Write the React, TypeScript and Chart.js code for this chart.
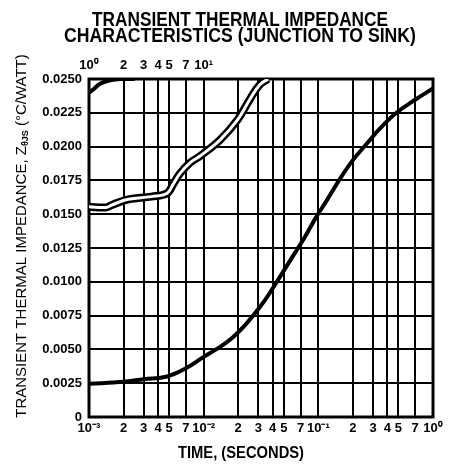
import React, { useEffect, useRef } from "react";
import { Chart, registerables } from "chart.js";

Chart.register(...registerables);

const X_TICKS = [0.001, 0.002, 0.003, 0.004, 0.005, 0.007, 0.01, 0.02, 0.03, 0.04, 0.05, 0.07, 0.1, 0.2, 0.3, 0.4, 0.5, 0.7, 1];
const X_TICK_LABELS = ["10⁻³", "2", "3", "4", "5", "7", "10⁻²", "2", "3", "4", "5", "7", "10⁻¹", "2", "3", "4", "5", "7", "10⁰"];
const TOP_TICKS = [1, 2, 3, 4, 5, 7, 10];
const TOP_TICK_LABELS = ["10⁰", "2", "3", "4", "5", "7", "10¹"];
const Y_TICKS = [0, 0.0025, 0.005, 0.0075, 0.01, 0.0125, 0.015, 0.0175, 0.02, 0.0225, 0.025];
const Y_TICK_LABELS = ["0", "0.0025", "0.0050", "0.0075", "0.0100", "0.0125", "0.0150", "0.0175", "0.0200", "0.0225", "0.0250"];

// main curve (bottom time axis, seconds)
const MAIN_T = [0.001, 0.002, 0.003, 0.0048, 0.007, 0.01, 0.014, 0.018, 0.023, 0.027, 0.034, 0.045, 0.06, 0.075, 0.093, 0.12, 0.154, 0.2, 0.27, 0.35, 0.48, 0.71, 1.0];
const MAIN_Z = [0.00245, 0.0026, 0.0028, 0.003, 0.0036, 0.00445, 0.0052, 0.0059, 0.0068, 0.0075, 0.0086, 0.0102, 0.0119, 0.0132, 0.0146, 0.0161, 0.0176, 0.019, 0.0203, 0.0214, 0.0225, 0.0235, 0.0243];

// double-line curve (bottom time axis)
const DBL_T = [0.001, 0.0014, 0.0016, 0.0022, 0.0035, 0.0048, 0.0054, 0.0062, 0.0076, 0.0093, 0.0139, 0.0198, 0.0253, 0.031, 0.0365];
const DBL_Z = [0.01555, 0.0155, 0.0157, 0.0161, 0.0163, 0.01655, 0.0172, 0.018, 0.0188, 0.0193, 0.0205, 0.022, 0.0235, 0.0246, 0.025];

// continuation on the top time axis (10^0 .. 10^1 s)
const TOP_T = [1, 1.08, 1.25, 1.5, 1.9, 2.5];
const TOP_Z = [0.024, 0.0242, 0.02465, 0.02488, 0.025, 0.025];

const TITLE_1 = "TRANSIENT THERMAL IMPEDANCE";
const TITLE_2 = "CHARACTERISTICS (JUNCTION TO SINK)";
const X_TITLE = "TIME, (SECONDS)";
const Y_TITLE_A = "TRANSIENT THERMAL IMPEDANCE, Z";
const Y_TITLE_SUB = "θJS";
const Y_TITLE_B = " (°C/WATT)";

const FONT_FAMILY = "'Liberation Sans Narrow', 'Liberation Sans', Arial, sans-serif";

const pts = (xs: number[], ys: number[]) => xs.map((x, i) => ({ x, y: ys[i] }));

const decorPlugin = {
  id: "decor",
  beforeDatasetsDraw(chart: any) {
    const { ctx, chartArea: a } = chart;
    ctx.save();
    ctx.strokeStyle = "#000";
    ctx.lineWidth = 3;
    ctx.strokeRect(a.left, a.top, a.right - a.left, a.bottom - a.top);
    ctx.restore();
  },
  afterDraw(chart: any) {
    const { ctx } = chart;
    ctx.save();
    ctx.fillStyle = "#000";
    ctx.textAlign = "center";
    ctx.textBaseline = "middle";
    ctx.font = `bold 20px 'Liberation Sans', Arial, sans-serif`;
    ctx.fillText(TITLE_1, 240, 20, 296);
    ctx.fillText(TITLE_2, 240, 36, 352);
    ctx.font = `bold 17px 'Liberation Sans', Arial, sans-serif`;
    ctx.fillText(X_TITLE, 241, 453, 126);

    // rotated y title
    ctx.translate(22, 236);
    ctx.rotate(-Math.PI / 2);
    const mainFont = `15px 'Liberation Sans', Arial, sans-serif`;
    const subFont = `bold 9px 'Liberation Sans', Arial, sans-serif`;
    ctx.font = mainFont;
    const wA = ctx.measureText(Y_TITLE_A).width;
    const wB = ctx.measureText(Y_TITLE_B).width;
    ctx.font = subFont;
    const wS = ctx.measureText(Y_TITLE_SUB).width;
    const total = wA + wS + wB;
    const sx = Math.min(1, 392 / total);
    ctx.scale(sx, 1);
    ctx.textAlign = "left";
    let x = -total / 2;
    ctx.font = mainFont;
    ctx.fillText(Y_TITLE_A, x, 0);
    x += wA;
    ctx.font = subFont;
    ctx.fillText(Y_TITLE_SUB, x, 4);
    x += wS;
    ctx.font = mainFont;
    ctx.fillText(Y_TITLE_B, x, 0);
    ctx.restore();
  },
};

export default function App() {
  const ref = useRef<HTMLCanvasElement | null>(null);
  useEffect(() => {
    if (!ref.current) return;
    const tickFont = { family: FONT_FAMILY, size: 13, weight: "bold" as const };
    const common = { pointRadius: 0, tension: 0.4, yAxisID: "y" };
    const chart = new Chart(ref.current, {
      type: "line",
      data: {
        datasets: [
          { ...common, data: pts(MAIN_T, MAIN_Z), xAxisID: "x", borderColor: "#000", borderWidth: 4, order: 0 },
          { ...common, data: pts(DBL_T, DBL_Z), xAxisID: "x", borderColor: "#fff", borderWidth: 3, order: 1 },
          { ...common, data: pts(DBL_T, DBL_Z), xAxisID: "x", borderColor: "#000", borderWidth: 8, order: 2 },
          { ...common, data: pts(TOP_T, TOP_Z), xAxisID: "x2", borderColor: "#000", borderWidth: 4, order: 0 },
        ],
      },
      options: {
        animation: false,
        responsive: false,
        maintainAspectRatio: false,
        layout: { padding: { left: 0, right: 17, top: 0, bottom: 0 } },
        plugins: { legend: { display: false }, tooltip: { enabled: false }, title: { display: false } },
        scales: {
          x: {
            type: "logarithmic",
            position: "bottom",
            min: 0.001,
            max: 1,
            afterBuildTicks: (s: any) => {
              s.ticks = X_TICKS.map((v) => ({ value: v }));
            },
            afterFit: (s: any) => {
              s.height = 47;
            },
            grid: { color: "#000", lineWidth: 2, drawTicks: false },
            border: { display: false },
            ticks: {
              color: "#000",
              font: tickFont,
              padding: 4,
              autoSkip: false,
              maxRotation: 0,
              minRotation: 0,
              callback: (_v: any, i: number) => X_TICK_LABELS[i],
            },
          },
          x2: {
            type: "logarithmic",
            position: "top",
            min: 1,
            max: 1000,
            afterBuildTicks: (s: any) => {
              s.ticks = TOP_TICKS.map((v) => ({ value: v }));
            },
            afterFit: (s: any) => {
              s.height = 79;
            },
            grid: { display: false, drawTicks: false },
            border: { display: false },
            ticks: {
              color: "#000",
              font: tickFont,
              padding: 6,
              autoSkip: false,
              maxRotation: 0,
              minRotation: 0,
              callback: (_v: any, i: number) => TOP_TICK_LABELS[i],
            },
          },
          y: {
            type: "linear",
            position: "left",
            min: 0,
            max: 0.025,
            afterBuildTicks: (s: any) => {
              s.ticks = Y_TICKS.map((v) => ({ value: v }));
            },
            afterFit: (s: any) => {
              s.width = 89;
            },
            grid: { color: "#000", lineWidth: 2, drawTicks: false },
            border: { display: false },
            ticks: {
              color: "#000",
              font: tickFont,
              padding: 7,
              callback: (_v: any, i: number) => Y_TICK_LABELS[i],
            },
          },
        },
      },
      plugins: [decorPlugin],
    });
    return () => chart.destroy();
  }, []);
  return (
    <div style={{ position: "fixed", left: 0, top: 0, width: 450, height: 464, background: "#fff" }}>
      <canvas ref={ref} width={450} height={464} style={{ display: "block" }} />
    </div>
  );
}
